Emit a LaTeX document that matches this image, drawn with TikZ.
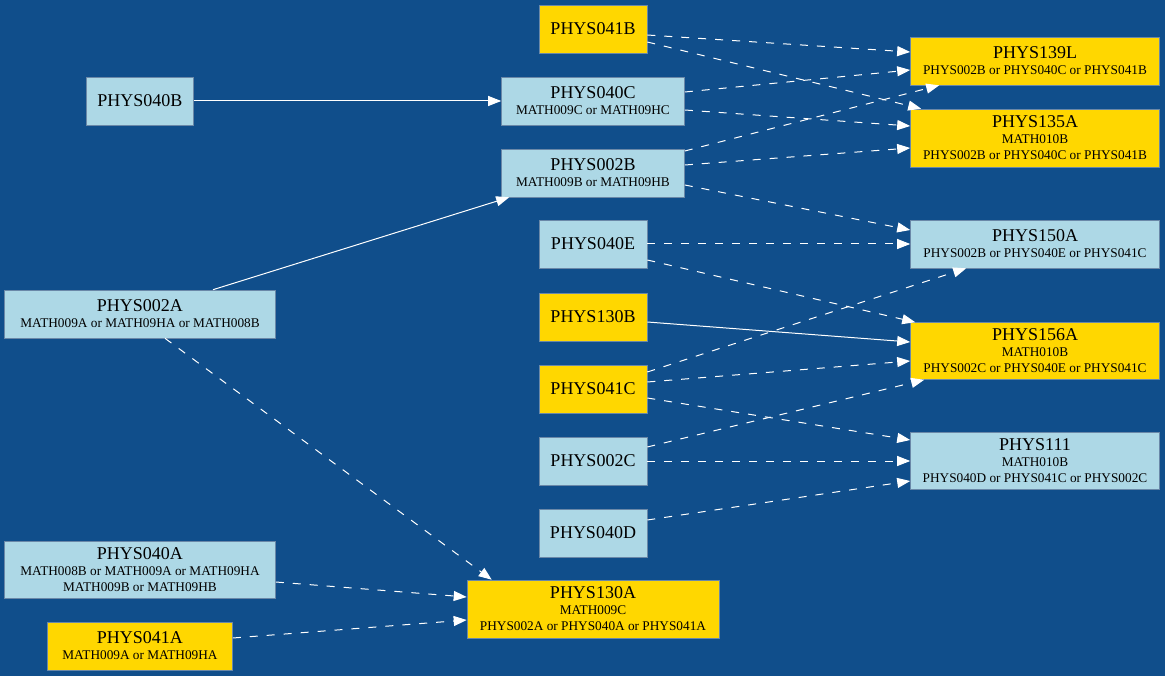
\documentclass[tikz,border=0pt]{standalone}
\usepackage{fontspec}
\setmainfont{Liberation Serif}
\usetikzlibrary{arrows.meta,positioning}

\definecolor{bgblue}{HTML}{104E8B}
\definecolor{lightblue}{HTML}{ADD8E6}
\definecolor{gold}{HTML}{FFD700}
\definecolor{frame}{HTML}{6A88A8}
\newcommand{\reqs}[1]{{\fontsize{13.3}{15.5}\selectfont #1}}

\begin{document}
\begin{tikzpicture}[
    x=1pt, y=-1pt,
    course/.style={draw=frame, line width=0.6pt, inner sep=0pt,
                   minimum height=48pt, align=center,
                   font=\fontsize{18}{16}\selectfont},
    lb/.style={course, fill=lightblue},
    gd/.style={course, fill=gold},
    dep/.style={-{Triangle[length=13pt, width=10pt]}, white, line width=1pt},
    opt/.style={dep, dash pattern=on 8pt off 9pt},
  ]

  % ---------- background ----------
  \fill[bgblue] (0,0) rectangle (1165,676);
  \useasboundingbox (0,0) rectangle (1165,676);

  % ---------- left column ----------
  \node[lb, minimum width=107pt] (phys040b) at (140,101) {PHYS040B};
  \node[lb, minimum width=271pt] (phys002a) at (140,314)
    {PHYS002A\\\reqs{MATH009A or MATH09HA or MATH008B}};
  \node[lb, minimum width=271pt, minimum height=57pt] (phys040a) at (140,570)
    {PHYS040A\\\reqs{MATH008B or MATH009A or MATH09HA}\\\reqs{MATH009B or MATH09HB}};
  \node[gd, minimum width=185pt] (phys041a) at (140,646)
    {PHYS041A\\\reqs{MATH009A or MATH09HA}};

  % ---------- middle column ----------
  \node[gd, minimum width=108pt] (phys041b) at (593,29) {PHYS041B};
  \node[lb, minimum width=183pt] (phys040c) at (593,101)
    {PHYS040C\\\reqs{MATH009C or MATH09HC}};
  \node[lb, minimum width=183pt] (phys002b) at (593,173)
    {PHYS002B\\\reqs{MATH009B or MATH09HB}};
  \node[lb, minimum width=108pt] (phys040e) at (593,244) {PHYS040E};
  \node[gd, minimum width=108pt] (phys130b) at (593,317) {PHYS130B};
  \node[gd, minimum width=108pt] (phys041c) at (593,389) {PHYS041C};
  \node[lb, minimum width=108pt] (phys002c) at (593,461) {PHYS002C};
  \node[lb, minimum width=108pt] (phys040d) at (593,533) {PHYS040D};
  \node[gd, minimum width=252pt, minimum height=58pt] (phys130a) at (593,609)
    {PHYS130A\\\reqs{MATH009C}\\\reqs{PHYS002A or PHYS040A or PHYS041A}};

  % ---------- right column ----------
  \node[gd, minimum width=249pt] (phys139l) at (1035,61)
    {PHYS139L\\\reqs{PHYS002B or PHYS040C or PHYS041B}};
  \node[gd, minimum width=249pt, minimum height=58pt] (phys135a) at (1035,138)
    {PHYS135A\\\reqs{MATH010B}\\\reqs{PHYS002B or PHYS040C or PHYS041B}};
  \node[lb, minimum width=249pt] (phys150a) at (1035,244)
    {PHYS150A\\\reqs{PHYS002B or PHYS040E or PHYS041C}};
  \node[gd, minimum width=249pt, minimum height=57pt] (phys156a) at (1035,351)
    {PHYS156A\\\reqs{MATH010B}\\\reqs{PHYS002C or PHYS040E or PHYS041C}};
  \node[lb, minimum width=249pt, minimum height=57pt] (phys111) at (1035,461)
    {PHYS111\\\reqs{MATH010B}\\\reqs{PHYS040D or PHYS041C or PHYS002C}};

  % ---------- left -> middle ----------
  \draw[dep] (phys040b.east) -- (phys040c.west);
  \draw[dep] ([xshift=73pt]phys002a.north) -- ([xshift=8pt]phys002b.south west);
  \draw[opt] ([xshift=25pt]phys002a.south) -- ([xshift=25pt]phys130a.north west);
  \draw[opt] ([yshift=-12pt]phys040a.east) -- ([yshift=12pt]phys130a.west);
  \draw[opt] ([yshift=8pt]phys041a.east) -- ([yshift=-11pt]phys130a.west);

  % ---------- middle -> right ----------
  \draw[opt] ([yshift=-6pt]phys041b.east) -- ([yshift=9pt]phys139l.west);
  \draw[opt] ([yshift=-13pt]phys041b.east) -- ([xshift=11pt]phys135a.north west);
  \draw[opt] ([yshift=9pt]phys040c.east) -- ([yshift=-9pt]phys139l.west);
  \draw[opt] ([yshift=-9pt]phys040c.east) -- ([yshift=12pt]phys135a.west);
  \draw[opt] ([yshift=22pt]phys002b.east) -- ([xshift=29pt]phys139l.south west);
  \draw[opt] ([yshift=8pt]phys002b.east) -- ([yshift=-10pt]phys135a.west);
  \draw[opt] ([yshift=-12pt]phys002b.east) -- ([yshift=14pt]phys150a.west);
  \draw[opt] (phys040e.east) -- (phys150a.west);
  \draw[opt] ([yshift=-16pt]phys040e.east) -- ([xshift=5pt]phys156a.north west);
  \draw[dep] ([yshift=-5pt]phys130b.east) -- ([yshift=9pt]phys156a.west);
  \draw[opt] ([yshift=17pt]phys041c.east) -- ([xshift=56pt]phys150a.south west);
  \draw[opt] ([yshift=7pt]phys041c.east) -- ([yshift=-10pt]phys156a.west);
  \draw[opt] ([yshift=-9pt]phys041c.east) -- ([yshift=21pt]phys111.west);
  \draw[opt] ([yshift=14pt]phys002c.east) -- ([xshift=14pt]phys156a.south west);
  \draw[opt] (phys002c.east) -- (phys111.west);
  \draw[opt] ([yshift=13pt]phys040d.east) -- ([yshift=-20pt]phys111.west);

\end{tikzpicture}
\end{document}
